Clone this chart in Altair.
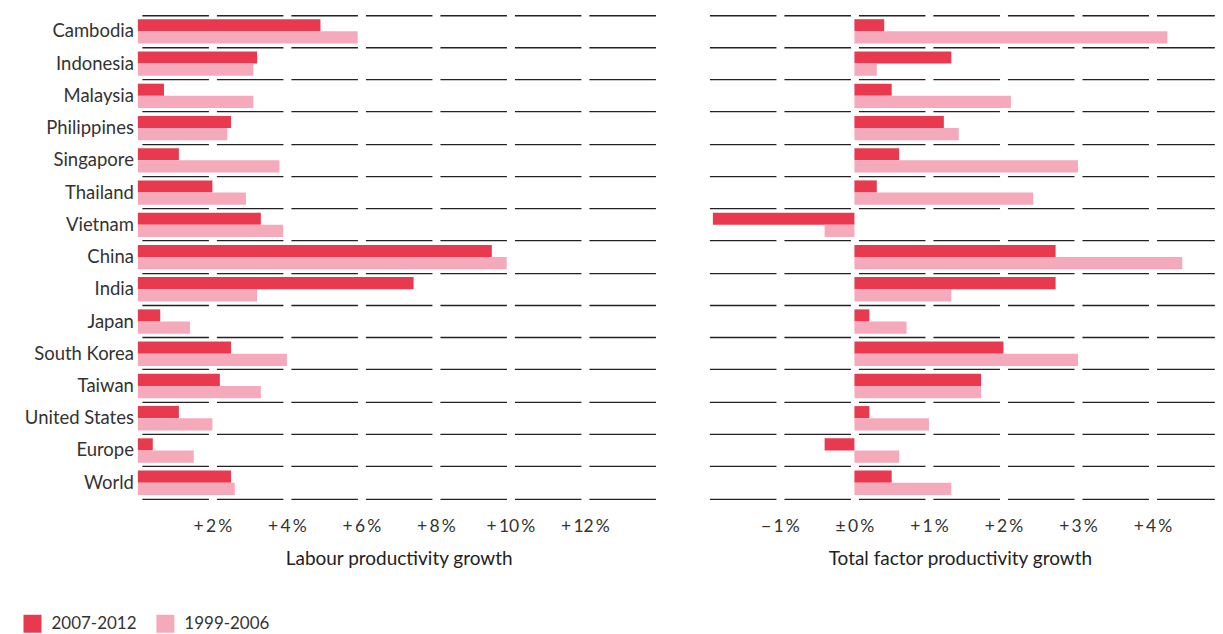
import altair as alt
import pandas as pd

countries = ["Cambodia", "Indonesia", "Malaysia", "Philippines", "Singapore",
             "Thailand", "Vietnam", "China", "India", "Japan", "South Korea",
             "Taiwan", "United States", "Europe", "World"]
periods = ["2007-2012", "1999-2006"]

labour_2007_2012 = [4.9, 3.2, 0.7, 2.5, 1.1, 2.0, 3.3, 9.5, 7.4, 0.6, 2.5, 2.2, 1.1, 0.4, 2.5]
labour_1999_2006 = [5.9, 3.1, 3.1, 2.4, 3.8, 2.9, 3.9, 9.9, 3.2, 1.4, 4.0, 3.3, 2.0, 1.5, 2.6]
tfp_2007_2012 = [0.4, 1.3, 0.5, 1.2, 0.6, 0.3, -1.9, 2.7, 2.7, 0.2, 2.0, 1.7, 0.2, -0.4, 0.5]
tfp_1999_2006 = [4.2, 0.3, 2.1, 1.4, 3.0, 2.4, -0.4, 4.4, 1.3, 0.7, 3.0, 1.7, 1.0, 0.6, 1.3]

labour_ticks = [2, 4, 6, 8, 10, 12]
labour_tick_labels = ["+\u20092\u2009%", "+\u20094\u2009%", "+\u20096\u2009%",
                      "+\u20098\u2009%", "+\u200910\u2009%", "+\u200912\u2009%"]
tfp_ticks = [-1, 0, 1, 2, 3, 4]
tfp_tick_labels = ["\u2212\u20091\u2009%", "\u00b1\u20090\u2009%", "+\u20091\u2009%",
                   "+\u20092\u2009%", "+\u20093\u2009%", "+\u20094\u2009%"]

labour_title = "Labour productivity growth"
tfp_title = "Total factor productivity growth"
colors = ["#e8394f", "#f4aabb"]

rows = []
for i, c in enumerate(countries):
    rows.append({"country": c, "period": periods[0], "labour": labour_2007_2012[i], "tfp": tfp_2007_2012[i]})
    rows.append({"country": c, "period": periods[1], "labour": labour_1999_2006[i], "tfp": tfp_1999_2006[i]})
df = pd.DataFrame(rows)

FONT = "Lato"
H = 484
PX_PER_STEP = 74.57
GAP = 8
DASH = PX_PER_STEP - GAP
OFFSET = DASH + GAP / 2
LINE = "#222222"
TXT = "#333333"


def label_expr(ticks, labels):
    arr = "[" + ",".join("'" + l + "'" for l in labels) + "]"
    vals = "[" + ",".join(str(t) for t in ticks) + "]"
    return arr + "[indexof(" + vals + ", datum.value)]"


def panel(field, domain, width, ticks, labels, title, show_y):
    yaxis = alt.Axis(
        title=None, grid=True, bandPosition=0, tickExtra=False,
        gridColor=LINE, gridWidth=1.3, gridDash=[DASH, GAP], gridDashOffset=OFFSET,
        gridOpacity=1, ticks=False, domain=False, labels=show_y, labelFont=FONT,
        labelFontSize=18.5, labelColor=TXT, labelPadding=4.5,
        minExtent=124.5 if show_y else 0, maxExtent=124.5 if show_y else 0,
    )
    xaxis = alt.Axis(
        values=ticks, labelExpr=label_expr(ticks, labels), grid=False, ticks=False,
        tickSize=0, domain=True, domainColor=LINE, domainWidth=1.3,
        domainDash=[DASH, GAP], domainDashOffset=OFFSET, title=title,
        labelFont=FONT, labelFontSize=17.5, labelColor=TXT, labelPadding=19,
        titleFont=FONT, titleFontSize=19, titleFontWeight="normal",
        titleColor="#222222", titlePadding=14,
    )
    return alt.Chart(df).mark_bar().encode(
        y=alt.Y("country:N", sort=countries,
                scale=alt.Scale(paddingInner=0, paddingOuter=0), axis=yaxis),
        yOffset=alt.YOffset("period:N", sort=periods,
                            scale=alt.Scale(domain=periods, paddingInner=0, paddingOuter=0.324)),
        x=alt.X(field + ":Q", scale=alt.Scale(domain=domain, nice=False), axis=xaxis),
        color=alt.Color("period:N", sort=periods,
                        scale=alt.Scale(domain=periods, range=colors),
                        legend=alt.Legend(title=None, orient="none", legendX=-114.5, legendY=600,
                                          direction="horizontal", symbolType="square",
                                          symbolSize=324, symbolStrokeWidth=0, labelFont=FONT,
                                          labelFontSize=17, labelColor=TXT, labelOffset=10,
                                          columnPadding=19, padding=0)),
    ).properties(width=width, height=H)


left = panel("labour", [0, 14], 522, labour_ticks, labour_tick_labels, labour_title, True)
right = panel("tfp", [-2, 4.83], 509.3, tfp_ticks, tfp_tick_labels, tfp_title, False)

chart = alt.hconcat(left, right, spacing=46).properties(
    padding={"left": 5, "top": 7, "right": 0, "bottom": 0}
).configure_view(stroke=None)

chart.save("out.html", embed_options={"renderer": "svg", "actions": False})
